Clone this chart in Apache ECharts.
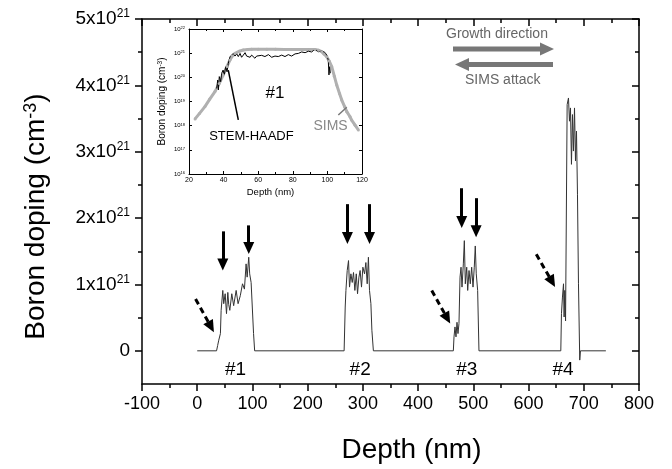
<!DOCTYPE html>
<html><head><meta charset="utf-8">
<script src="https://cdn.jsdelivr.net/npm/echarts@6/dist/echarts.min.js"></script>
<style>html,body{margin:0;padding:0;background:#fff}#c{width:672px;height:469px}</style>
</head><body><div id="c"></div>
<script>
// ---------- main profile: depth (nm) and boron doping (x1e21 cm^-3) ----------
const layer1Depth = [0,35,37,39,42,43.3,46.3,48,50.6,53,55.4,57,59,62.6,66,70.5,74,78,82,85.5,88.5,90.4,93.3,95,97.6,99.4,102,104];
const layer1Boron = [0,0,0.08,0.16,0.26,0.61,0.91,0.71,0.86,0.56,0.88,0.7,0.61,0.86,0.68,0.91,0.71,0.83,1.01,0.93,1.31,1.11,1.41,1.16,1.03,1.01,0.26,0];
const layer2Depth = [266,268,269.3,271.6,274,275.8,278.3,280.7,283,285.5,288,290.3,292.8,295,297.5,300,303,305.4,307.8,310,312,314.5,316.3,319];
const layer2Boron = [0,0.66,0.91,1.21,1.36,0.96,1.16,1.03,1.18,0.91,1.16,0.86,1.11,1.21,0.96,1.26,1.16,1.33,1.01,1.41,0.91,0.71,0.31,0];
const layer3Depth = [463.8,465,466.8,468.6,470.4,472.2,474,475.9,477.7,479.5,481.9,483.7,485.5,488,489.8,492.2,494.5,497,499.4,501.7,503.5,505.3,507.8,510.2];
const layer3Boron = [0,0.21,0.36,0.21,0.43,0.26,0.41,1.11,1.26,0.96,1.31,1.66,1.01,1.26,0.91,1.21,1.01,1.26,0.96,1.26,1.58,1.16,0.91,0];
const layer4Depth = [658.4,659.6,661.4,663.3,664.4,665.6,667,669.9,672.3,674.1,675.9,677.7,679.5,681.3,683.2,685,686.8,688.6,690.4,692.7,694,740];
const layer4Boron = [0,0.56,0.81,1.01,0.51,0.91,0.45,3.71,3.81,3.46,3.66,2.81,3.56,3.01,3.66,2.86,3.31,2.36,1.01,-0.14,0,0];
const layerLabels = ['#1','#2','#3','#4'];
const layerLabelPos = [[69.3,-0.29],[295,-0.29],[488,-0.29],[662.6,-0.29]];
// solid arrows: [depth, top, tip]
const solidArrows = [[46.3,1.80,1.21],[93.3,1.89,1.46],[272,2.21,1.61],[312,2.21,1.61],[479,2.45,1.85],[505,2.3,1.71]];
// dashed arrows: [x0,y0,x1,y1]
const dashedArrows = [[-3,0.78,30,0.28],[424.7,0.91,457.8,0.41],[614,1.455,647.6,0.96]];
const yTicksMain = [0,1,2,3,4,5];
const yMinorMain = [0.5,1.5,2.5,3.5,4.5];

// ---------- inset (#1, log scale), values are log10(cm^-3) ----------
const simsDepth = [23.5,26,29.2,32,35,37.5,39.8,42,43.7,45,46.6,49,51.4,54,56.2,60,65,70,75,80,85,90,92.8,95,96.7,98,99.6,101,102.5,104,105.4,107,108.3,110,111.2,113,114,116,117.9];
const simsLog   = [18.28,18.5,18.79,19.1,19.41,19.75,20.1,20.45,20.72,20.88,20.99,21.08,21.13,21.15,21.16,21.16,21.16,21.16,21.15,21.15,21.15,21.15,21.15,21.12,21.06,20.97,20.85,20.68,20.44,20.05,19.68,19.33,19.06,18.78,18.58,18.38,18.23,18.02,17.82];
const stemDepth = [36.0,36.6,37.0,37.5,38.3,38.9,39.7,40.4,41.2,42.0,42.7,43.7,44.7,45.6,46.6,47.6,48.5,49.5,50.4,51.4,52.4,53.3,54.3,55.3,56.2,57.2,58.1,59.1,60.1,62.0,63.9,65.9,67.8,69.7,71.6,73.6,75.5,77.4,79.3,81.3,83.2,85.1,87.1,89.0,90.9,92.8,93.8,94.8,96.7,98.6,99.6,100.5,100.9,101.3,101.7];
const stemLog   = [19.54,19.89,19.48,20.03,19.82,20.17,20.30,20.10,20.44,20.23,20.58,20.85,20.92,20.99,20.88,20.97,20.86,20.99,20.83,20.92,21.02,20.88,20.95,20.83,20.92,20.99,20.79,20.88,20.83,20.91,20.86,20.94,20.83,20.88,20.86,20.92,20.86,20.94,20.88,20.97,20.99,21.05,21.02,21.08,21.05,21.16,21.08,21.06,21.09,21.03,20.92,20.72,20.1,20.44,20.17];

const FONT = "'Liberation Sans', Arial, Helvetica, sans-serif";
const zip = (a, b) => a.map((v, i) => [v, b[i]]);
const mainData = [].concat(zip(layer1Depth, layer1Boron), zip(layer2Depth, layer2Boron), zip(layer3Depth, layer3Boron), zip(layer4Depth, layer4Boron));
const simsData = simsDepth.map((d, i) => [d, Math.pow(10, simsLog[i])]);
const stemData = stemDepth.map((d, i) => [d, Math.pow(10, stemLog[i])]);

const blk = {color:'#000', width:1.5};
const arrowLines = [];
solidArrows.forEach(a => {
  arrowLines.push([{coord:[a[0], a[1]], symbol:'none'}, {coord:[a[0], a[2] + 0.09], symbol:'triangle', symbolSize:[11, 12]}]);
});
dashedArrows.forEach(a => {
  const ls = {type:[6,4], width:3, color:'#000'};
  arrowLines.push([{coord:[a[0], a[1]], symbol:'none', lineStyle:ls}, {coord:[a[2] - 5, a[3] + 0.08], symbol:'triangle', symbolSize:[11, 12], lineStyle:ls}]);
});

const chart = echarts.init(document.getElementById('c'), null, {renderer:'canvas'});
chart.setOption({
  animation:false,
  backgroundColor:'#fff',
  textStyle:{fontFamily:FONT},
  grid:[
    {left:142, top:19, width:497, height:365},
    {left:189, top:29, width:173, height:145}
  ],
  xAxis:[
    {gridIndex:0, type:'value', position:'bottom', min:-100, max:800, interval:100,
     axisLine:{show:true, onZero:false, lineStyle:blk},
     axisTick:{show:true, inside:false, length:7, lineStyle:blk},
     minorTick:{show:true, splitNumber:2, length:4, lineStyle:blk},
     splitLine:{show:false},
     axisLabel:{fontSize:18, color:'#000', margin:11, fontFamily:FONT},
     name:'Depth (nm)', nameLocation:'middle', nameGap:52,
     nameTextStyle:{fontSize:28, color:'#000', fontFamily:FONT, padding:[0,0,0,42]}},
    {gridIndex:0, type:'value', position:'top', min:-100, max:800, interval:100,
     axisLine:{show:true, onZero:false, lineStyle:blk},
     axisTick:{show:true, inside:true, length:7, lineStyle:blk},
     minorTick:{show:true, splitNumber:2, length:4, lineStyle:blk},
     splitLine:{show:false}, axisLabel:{show:false}},
    {gridIndex:1, type:'value', position:'bottom', min:20, max:120, interval:20,
     axisLine:{show:true, onZero:false, lineStyle:{color:'#000', width:1}},
     axisTick:{show:true, inside:true, length:3, lineStyle:{color:'#000', width:1}},
     minorTick:{show:true, splitNumber:2, length:2, lineStyle:{color:'#000', width:1}},
     splitLine:{show:false},
     axisLabel:{fontSize:7, color:'#000', margin:3, fontFamily:FONT},
     name:'Depth (nm)', nameLocation:'middle', nameGap:13,
     nameTextStyle:{fontSize:9.5, color:'#000', fontFamily:FONT, padding:[0,10,0,0]}},
    {gridIndex:1, type:'value', position:'top', min:20, max:120, interval:20,
     axisLine:{show:true, onZero:false, lineStyle:{color:'#000', width:1}},
     axisTick:{show:true, inside:true, length:3, lineStyle:{color:'#000', width:1}},
     minorTick:{show:true, splitNumber:2, length:2, lineStyle:{color:'#000', width:1}},
     splitLine:{show:false}, axisLabel:{show:false}}
  ],
  yAxis:[
    {gridIndex:0, type:'value', position:'left', min:-0.5, max:5, interval:0.5,
     axisLine:{show:true, onZero:false, lineStyle:blk},
     axisTick:{show:true, inside:false, length:7, lineStyle:blk, customValues:yTicksMain},
     splitLine:{show:false},
     axisLabel:{customValues:yTicksMain, fontSize:19, color:'#000', margin:12, fontFamily:FONT, lineHeight:22,
       formatter: v => v === 0 ? '0' : v + 'x10{s|21}',
       rich:{s:{fontSize:12, verticalAlign:'top', lineHeight:12, fontFamily:FONT, color:'#000'}}},
     name:'Boron doping (cm{s|-3})', nameLocation:'middle', nameGap:92, nameRotate:90,
     nameTextStyle:{fontSize:28, color:'#000', fontFamily:FONT, padding:[0,30,0,0],
       rich:{s:{fontSize:18, verticalAlign:'top', lineHeight:18, fontFamily:FONT, color:'#000'}}}},
    {gridIndex:0, type:'value', position:'left', min:-0.5, max:5, interval:0.5,
     axisLine:{show:false, onZero:false},
     axisTick:{show:true, inside:false, length:4, lineStyle:blk, customValues:yMinorMain},
     splitLine:{show:false}, axisLabel:{show:false}},
    {gridIndex:0, type:'value', position:'right', min:-0.5, max:5, interval:0.5,
     axisLine:{show:true, onZero:false, lineStyle:blk},
     axisTick:{show:true, inside:true, length:7, lineStyle:blk, customValues:yTicksMain},
     splitLine:{show:false}, axisLabel:{show:false}},
    {gridIndex:0, type:'value', position:'right', min:-0.5, max:5, interval:0.5,
     axisLine:{show:false, onZero:false},
     axisTick:{show:true, inside:true, length:4, lineStyle:blk, customValues:yMinorMain},
     splitLine:{show:false}, axisLabel:{show:false}},
    {gridIndex:1, type:'log', logBase:10, position:'left', min:1e16, max:1e22, splitNumber:6,
     axisLine:{show:true, onZero:false, lineStyle:{color:'#000', width:1}},
     axisTick:{show:true, inside:true, length:3, lineStyle:{color:'#000', width:1}},
     splitLine:{show:false},
     axisLabel:{fontSize:6, color:'#000', margin:4, fontFamily:FONT,
       formatter: v => '10{s|' + Math.round(Math.log10(v)) + '}',
       rich:{s:{fontSize:4, verticalAlign:'top', lineHeight:4, fontFamily:FONT}}},
     name:'Boron doping (cm{s|-3})', nameLocation:'middle', nameGap:22, nameRotate:90,
     nameTextStyle:{fontSize:10, color:'#000', fontFamily:FONT,
       rich:{s:{fontSize:6.5, verticalAlign:'top', lineHeight:6.5, fontFamily:FONT}}}},
    {gridIndex:1, type:'log', logBase:10, position:'right', min:1e16, max:1e22, splitNumber:6,
     axisLine:{show:true, onZero:false, lineStyle:{color:'#000', width:1}},
     axisTick:{show:true, inside:true, length:3, lineStyle:{color:'#000', width:1}},
     splitLine:{show:false}, axisLabel:{show:false}}
  ],
  series:[
    {name:'Boron profile', type:'line', xAxisIndex:0, yAxisIndex:0, data:mainData,
     showSymbol:false, symbol:'none', lineStyle:{color:'#333', width:1}, silent:true,
     markLine:{silent:true, animation:false, label:{show:false},
       lineStyle:{color:'#000', width:3, type:'solid'}, data:arrowLines},
     markPoint:{silent:true, symbol:'circle', symbolSize:0,
       label:{show:true, position:'inside', formatter:'{b}', fontSize:19, color:'#000', fontFamily:FONT},
       data: layerLabels.map((t, i) => ({name:t, coord:layerLabelPos[i]}))}},
    {name:'SIMS', type:'line', xAxisIndex:2, yAxisIndex:4, data:simsData,
     symbol:'circle', symbolSize:3, showSymbol:true,
     itemStyle:{color:'#b0b0b0'}, lineStyle:{color:'#b0b0b0', width:3}, silent:true,
     markLine:{silent:true, symbol:['none','none'], label:{show:false},
       lineStyle:{color:'#777', width:1.5, type:'solid'},
       data:[[{coord:[106.3, Math.pow(10,18.44)]},{coord:[111.2, Math.pow(10,18.76)]}]]},
     markPoint:{silent:true, symbol:'circle', symbolSize:0,
       label:{show:true, position:'inside', formatter:'{b}', fontSize:14, color:'#888', fontFamily:FONT},
       data:[{name:'SIMS', coord:[101.8, Math.pow(10,17.96)]}]}},
    {name:'STEM-HAADF', type:'line', xAxisIndex:2, yAxisIndex:4, data:stemData,
     showSymbol:false, symbol:'none', lineStyle:{color:'#000', width:1}, silent:true,
     markLine:{silent:true, symbol:['none','none'], label:{show:false},
       lineStyle:{color:'#000', width:1.5, type:'solid'},
       data:[[{coord:[48.5, Math.pow(10,18.24)]},{coord:[42.7, Math.pow(10,20.3)]}]]},
     markPoint:{silent:true, symbol:'circle', symbolSize:0,
       label:{show:true, position:'inside', formatter:'{b}', fontSize:13, color:'#000', fontFamily:FONT},
       data:[{name:'STEM-HAADF', coord:[56.1, Math.pow(10,17.54)]},
             {name:'#1', coord:[69.7, Math.pow(10,19.35)], label:{fontSize:17}}]}}
  ],
  graphic:[
    {type:'text', left:446, top:27, style:{text:'Growth direction', fontSize:14, fill:'#666', fontFamily:FONT}},
    {type:'rect', shape:{x:453, y:46.5, width:88, height:5}, style:{fill:'#777'}},
    {type:'polygon', shape:{points:[[540,42.5],[554,49],[540,55.5]]}, style:{fill:'#777'}},
    {type:'rect', shape:{x:468, y:62, width:85, height:5}, style:{fill:'#777'}},
    {type:'polygon', shape:{points:[[469,58],[455,64.5],[469,71]]}, style:{fill:'#777'}},
    {type:'text', left:465, top:73, style:{text:'SIMS attack', fontSize:14, fill:'#666', fontFamily:FONT}}
  ]
});
</script></body></html>
